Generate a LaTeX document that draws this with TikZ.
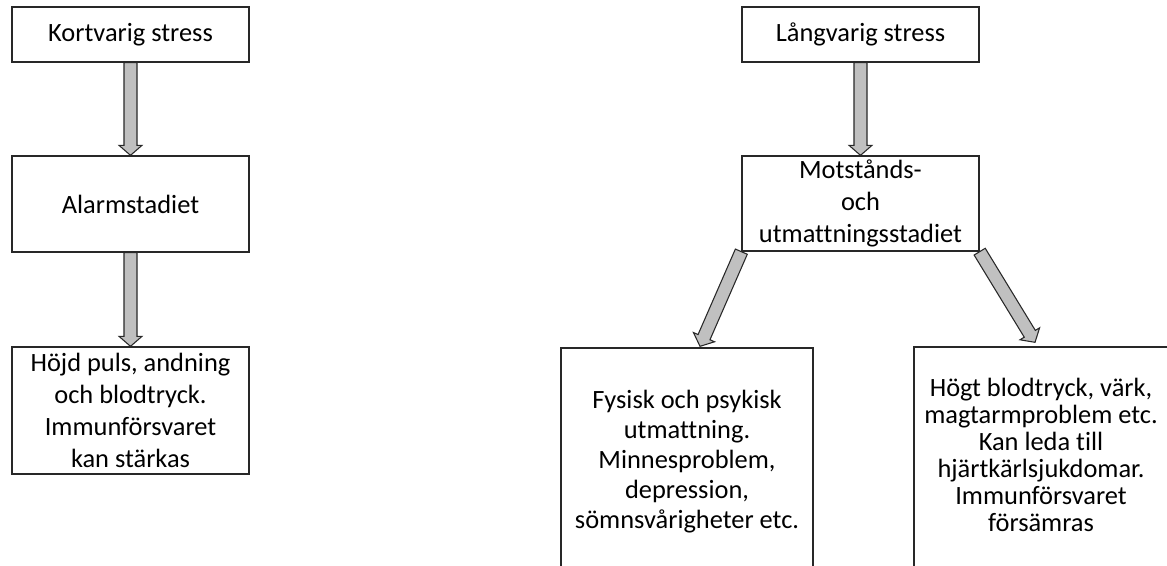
\documentclass[tikz,border=0pt]{standalone}
\usepackage{fontspec}
\setmainfont[Ligatures={NoCommon}]{Carlito}
\usetikzlibrary{calc}
\definecolor{arrowgray}{RGB}{192,192,192}
\definecolor{linegray}{RGB}{40,40,40}
\tikzset{
  box/.style={draw=linegray, line width=1pt, fill=white, inner sep=0pt, align=center,
    font=\fontsize{19.8}{24}\selectfont},
  txt/.style={inner sep=0pt, align=center},
  barrow/.style={draw=linegray, line width=0.8pt, fill=arrowgray, line join=miter},
}
\newcommand{\blockarrow}[2]{%
  \path (#1) coordinate (bas) (#2) coordinate (bae);
  \path ($(bae)!7.5pt!(bas)$) coordinate (bah);
  \draw[barrow] ($(bas)!4.875pt!90:(bae)$) -- ($(bah)!4.875pt!-90:(bas)$)
    -- ($(bah)!8.625pt!-90:(bas)$) -- (bae) -- ($(bah)!8.625pt!90:(bas)$)
    -- ($(bah)!4.875pt!90:(bas)$) -- ($(bas)!4.875pt!-90:(bae)$) -- cycle;
}
\begin{document}
\begin{tikzpicture}[x=0.75pt,y=-0.75pt]
\useasboundingbox (0,0) rectangle (1167,566);
\clip (0,0) rectangle (1167,566);
% left column
\node[box, minimum width=177.75pt, minimum height=41.25pt] (k1) at (130.5,34.5) {Kortvarig stress};
\node[box, minimum width=177.75pt, minimum height=72pt] (alarm) at (130.5,204) {Alarmstadiet};
\node[box, minimum width=177.75pt, minimum height=95.25pt] (k3) at (130.5,410.5)
  {Höjd puls, andning\\och blodtryck.\\Immunförsvaret\\kan stärkas};
% right column
\node[box, minimum width=177.75pt, minimum height=41.25pt] (lang) at (860.5,34.5) {Långvarig stress};
\node[box, minimum width=177.75pt, minimum height=71.25pt] (motst) at (860.5,203.5)
  {Motstånds-\\och\\utmattningsstadiet};
\node[box, minimum width=189pt, minimum height=189pt] (fys) at (687,474) {};
\node[txt, font=\fontsize{19.8}{22.5}\selectfont] (fyst) at (687,462)
  {Fysisk och psykisk\\utmattning.\\Minnesproblem,\\depression,\\sömnsvårigheter etc.};
\node[box, minimum width=195.75pt, minimum height=189.75pt] (hogt) at (1044.5,473.5) {};
\node[txt, font=\fontsize{19.8}{20.25}\selectfont] (hogtt) at (1041,454.5)
  {Högt blodtryck, värk,\\magtarmproblem etc.\\Kan leda till\\hjärtkärlsjukdomar.\\Immunförsvaret\\försämras};
% arrows
\blockarrow{k1.south}{alarm.north}
\blockarrow{alarm.south}{k3.north}
\blockarrow{lang.south}{motst.north}
\blockarrow{motst.south west}{$(fys.north)+(13,-1)$}
\blockarrow{motst.south east}{$(hogt.north)+(-9.5,-4)$}
\end{tikzpicture}
\end{document}
